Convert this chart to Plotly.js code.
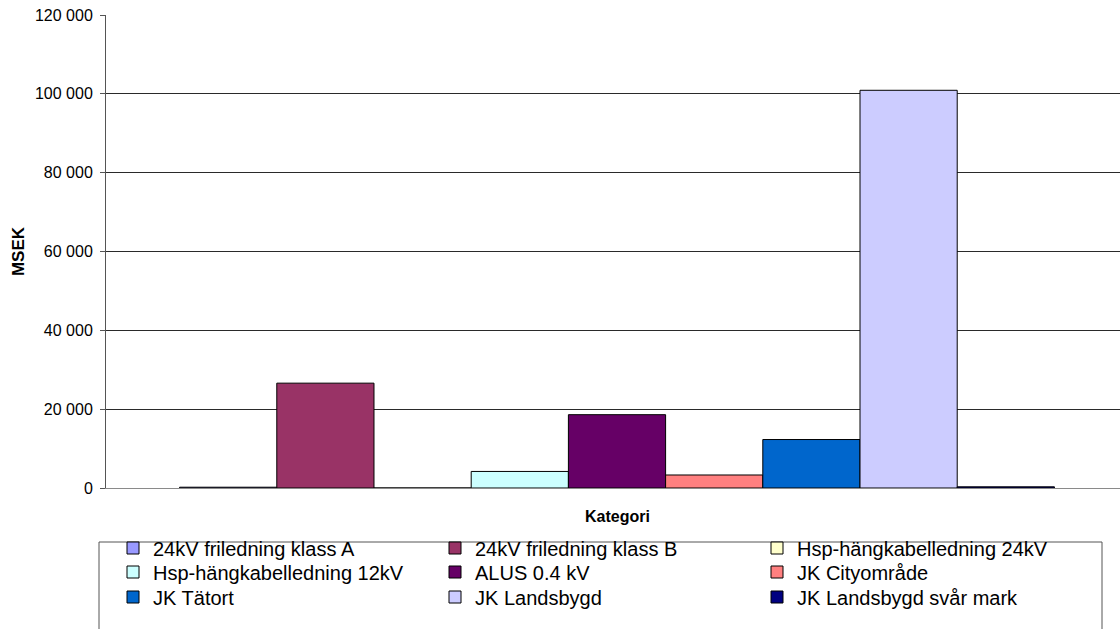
<!DOCTYPE html>
<html>
<head>
<meta charset="utf-8">
<script src="https://cdn.plot.ly/plotly-3.0.1.min.js"></script>
<style>
  html, body { margin: 0; padding: 0; background: #fff; overflow: hidden; }
  #chart { width: 1130px; height: 629px; }
</style>
</head>
<body>
<div id="chart"></div>
<script>
// Investment cost per network category (MSEK)
const category = ['Kategori'];
const seriesNames = [
  '24kV friledning klass A',
  '24kV friledning klass B',
  'Hsp-hängkabelledning 24kV',
  'Hsp-hängkabelledning 12kV',
  'ALUS 0.4 kV',
  'JK Cityområde',
  'JK Tätort',
  'JK Landsbygd',
  'JK Landsbygd svår mark'
];
const seriesValues = [200, 26600, 0, 4200, 18600, 3300, 12300, 100900, 300];
const seriesColors = [
  '#9999FF', '#993366', '#FFFFCC', '#CCFFFF', '#660066',
  '#FF8080', '#0066CC', '#CCCCFF', '#000080'
];
const yTicks = [0, 20000, 40000, 60000, 80000, 100000, 120000];

const FONT = 'Liberation Sans, Arial, sans-serif';

// legend rows: three entries per row
const legendIds = ['legend', 'legend2', 'legend3'];

const traces = seriesNames.map((name, i) => ({
  type: 'bar',
  name: name,
  x: category,
  y: [seriesValues[i]],
  legend: legendIds[Math.floor(i / 3)],
  marker: { color: seriesColors[i], line: { color: '#000000', width: 1 } },
  hoverinfo: 'name+y'
}));

const plotTop = 15, plotBottom = 488;
const plotH = plotBottom - plotTop;
const plotL = 106, plotW = 1022;
const px = v => (v - plotL) / plotW;
const py = v => (plotBottom - v) / plotH;

function legendRow(centerY) {
  return {
    orientation: 'h',
    traceorder: 'normal',
    x: px(113),
    xanchor: 'left',
    y: py(centerY),
    yanchor: 'middle',
    entrywidth: 277,
    entrywidthmode: 'pixels',
    bgcolor: 'rgba(0,0,0,0)',
    borderwidth: 0,
    font: { family: FONT, size: 20, color: '#000000' },
    itemclick: false,
    itemdoubleclick: false
  };
}

const layout = {
  width: 1130,
  height: 629,
  margin: { l: plotL, r: 1130 - plotL - plotW, t: plotTop, b: 629 - plotBottom, pad: 0, autoexpand: false },
  paper_bgcolor: '#ffffff',
  plot_bgcolor: '#ffffff',
  separators: ', ',
  font: { family: FONT, color: '#000000', size: 16 },
  barmode: 'group',
  bargap: 0.144,
  bargroupgap: 0,
  showlegend: true,
  xaxis: {
    type: 'category',
    showticklabels: false,
    ticks: '',
    showgrid: false,
    showline: true,
    linecolor: '#8a8a8a',
    linewidth: 1,
    zeroline: false,
    fixedrange: true,
    title: { text: '' }
  },
  yaxis: {
    range: [0, 120000],
    tickvals: yTicks,
    tickformat: ',d',
    ticks: 'outside',
    ticklen: 5,
    tickcolor: '#555555',
    ticklabelstandoff: 4,
    tickfont: { family: FONT, size: 16, color: '#000000' },
    showgrid: true,
    gridcolor: '#2a2a2a',
    gridwidth: 1,
    showline: true,
    linecolor: '#555555',
    linewidth: 1,
    zeroline: false,
    fixedrange: true,
    title: { text: 'MSEK', font: { family: FONT, size: 17, weight: 'bold', color: '#000000' }, standoff: 6 }
  },
  annotations: [{
    text: '<b>Kategori</b>',
    xref: 'paper', yref: 'paper',
    x: 0.5, y: py(516),
    xanchor: 'center', yanchor: 'middle',
    showarrow: false,
    font: { family: FONT, size: 16, color: '#000000' }
  }],
  shapes: [{
    type: 'rect',
    xref: 'paper', yref: 'paper',
    x0: px(99), x1: px(1102),
    y0: py(542), y1: py(660),
    line: { color: '#555555', width: 1 },
    fillcolor: 'rgba(0,0,0,0)',
    layer: 'above'
  }],
  legend: legendRow(548),
  legend2: legendRow(572),
  legend3: legendRow(597)
};

Plotly.newPlot('chart', traces, layout, { displayModeBar: false, staticPlot: true });
</script>
</body>
</html>
